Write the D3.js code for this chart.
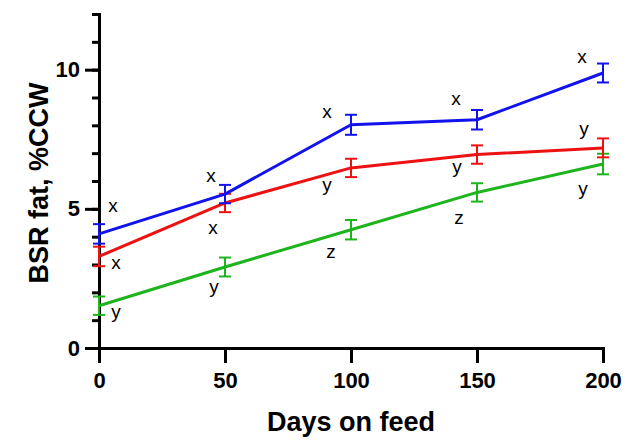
<!DOCTYPE html>
<html>
<head>
<meta charset="utf-8">
<script src="https://cdn.jsdelivr.net/npm/d3@7"></script>
<style>
  html, body { margin: 0; padding: 0; background: #fff; }
  svg { display: block; }
  text { font-family: "Liberation Sans", Arial, Helvetica, sans-serif; }
</style>
</head>
<body>
<svg id="chart" width="641" height="441"></svg>
<script>
// ---- data ----
const days = [0, 50, 100, 150, 200];
const xTickLabels = [0, 50, 100, 150, 200];
const yMajorTicks = [0, 5, 10];
const yMinorTicks = [0, 1, 2, 3, 4, 5, 6, 7, 8, 9, 10, 11, 12];

const blueMean = [4.10, 5.53, 8.02, 8.20, 9.88];
const blueErr  = [0.35, 0.33, 0.36, 0.35, 0.34];
const redMean  = [3.29, 5.21, 6.47, 6.95, 7.19];
const redErr   = [0.35, 0.33, 0.33, 0.33, 0.34];
const greenMean = [1.52, 2.91, 4.25, 5.59, 6.61];
const greenErr  = [0.33, 0.34, 0.35, 0.33, 0.37];

const blueLetters  = ["x", "x", "x", "x", "x"];
const redLetters   = ["x", "x", "y", "y", "y"];
const greenLetters = ["y", "y", "z", "z", "y"];

const xTitle = "Days on feed";
const yTitle = "BSR fat, %CCW";

// ---- layout ----
const svg = d3.select("#chart");
const x = d3.scaleLinear().domain([0, 200]).range([99, 603]);
const y = d3.scaleLinear().domain([0, 12]).range([348, 14]);

const series = [
  { name: "green", color: "#1db41d", mean: greenMean, err: greenErr, letters: greenLetters,
    off: [[17, 9], [-11, 23], [-20, 23], [-18, 27], [-20, 28]] },
  { name: "red", color: "#ee1111", mean: redMean, err: redErr, letters: redLetters,
    off: [[17, 8], [-12, 26], [-24, 20], [-20, 15], [-19, -16]] },
  { name: "blue", color: "#1212ee", mean: blueMean, err: blueErr, letters: blueLetters,
    off: [[14, -27], [-14, -17], [-24, -12], [-21, -20], [-21, -15]] }
];

// axes
const yMinor = d3.axisLeft(y).tickValues(yMinorTicks).tickSize(7).tickSizeOuter(0).tickFormat("");
const yMajor = d3.axisLeft(y).tickValues(yMajorTicks).tickSize(14).tickSizeOuter(0).tickPadding(5).tickFormat(d3.format("d"));
const xAxis = d3.axisBottom(x).tickValues(xTickLabels).tickSize(15).tickSizeOuter(0).tickPadding(9).tickFormat(d3.format("d"));

const gYMinor = svg.append("g").attr("transform", `translate(${x(0)},0)`).call(yMinor);
const gYMajor = svg.append("g").attr("transform", `translate(${x(0)},0)`).call(yMajor);
const gX = svg.append("g").attr("transform", `translate(0,${y(0)})`).call(xAxis);

[gYMinor, gYMajor, gX].forEach(g => {
  g.selectAll("path.domain").attr("stroke", "#000").attr("stroke-width", 3).attr("stroke-linecap", "square");
  g.selectAll(".tick line").attr("stroke", "#000").attr("stroke-width", 3);
  g.selectAll(".tick text")
    .attr("fill", "#000")
    .style("font-size", "22px")
    .style("font-weight", "bold")
    .style("font-family", "'Liberation Sans', Arial, sans-serif");
});
gYMajor.selectAll("path.domain").remove();

// series lines, error bars, letters
const line = d3.line().x((d, i) => x(days[i])).y(d => y(d));
const capW = 6;

series.forEach(s => {
  const g = svg.append("g");
  // error bars
  s.mean.forEach((m, i) => {
    const cx = x(days[i]);
    const top = y(m + s.err[i]);
    const bot = y(m - s.err[i]);
    g.append("line").attr("x1", cx).attr("x2", cx).attr("y1", top).attr("y2", bot)
      .attr("stroke", s.color).attr("stroke-width", 2);
    g.append("line").attr("x1", cx - capW).attr("x2", cx + capW).attr("y1", top).attr("y2", top)
      .attr("stroke", s.color).attr("stroke-width", 2);
    g.append("line").attr("x1", cx - capW).attr("x2", cx + capW).attr("y1", bot).attr("y2", bot)
      .attr("stroke", s.color).attr("stroke-width", 2);
  });
  g.append("path").datum(s.mean).attr("d", line)
    .attr("fill", "none").attr("stroke", s.color).attr("stroke-width", 3)
    .attr("stroke-linejoin", "round");
});

series.forEach(s => {
  s.letters.forEach((L, i) => {
    const cx = x(days[i]) + s.off[i][0];
    const cy = y(s.mean[i]) + s.off[i][1];
    svg.append("text")
      .attr("x", cx)
      .attr("y", cy + (L === "y" ? 3 : 5))
      .attr("text-anchor", "middle")
      .style("font-size", "19px")
      .attr("fill", "#000")
      .text(L);
  });
});

// titles
svg.append("text")
  .attr("x", (x(0) + x(200)) / 2)
  .attr("y", 431)
  .attr("text-anchor", "middle")
  .style("font-size", "27px")
  .style("font-weight", "bold")
  .attr("fill", "#000")
  .text(xTitle);

svg.append("text")
  .attr("transform", `translate(48,${183}) rotate(-90)`)
  .attr("text-anchor", "middle")
  .style("font-size", "27px")
  .style("font-weight", "bold")
  .attr("fill", "#000")
  .text(yTitle);
</script>
</body>
</html>
